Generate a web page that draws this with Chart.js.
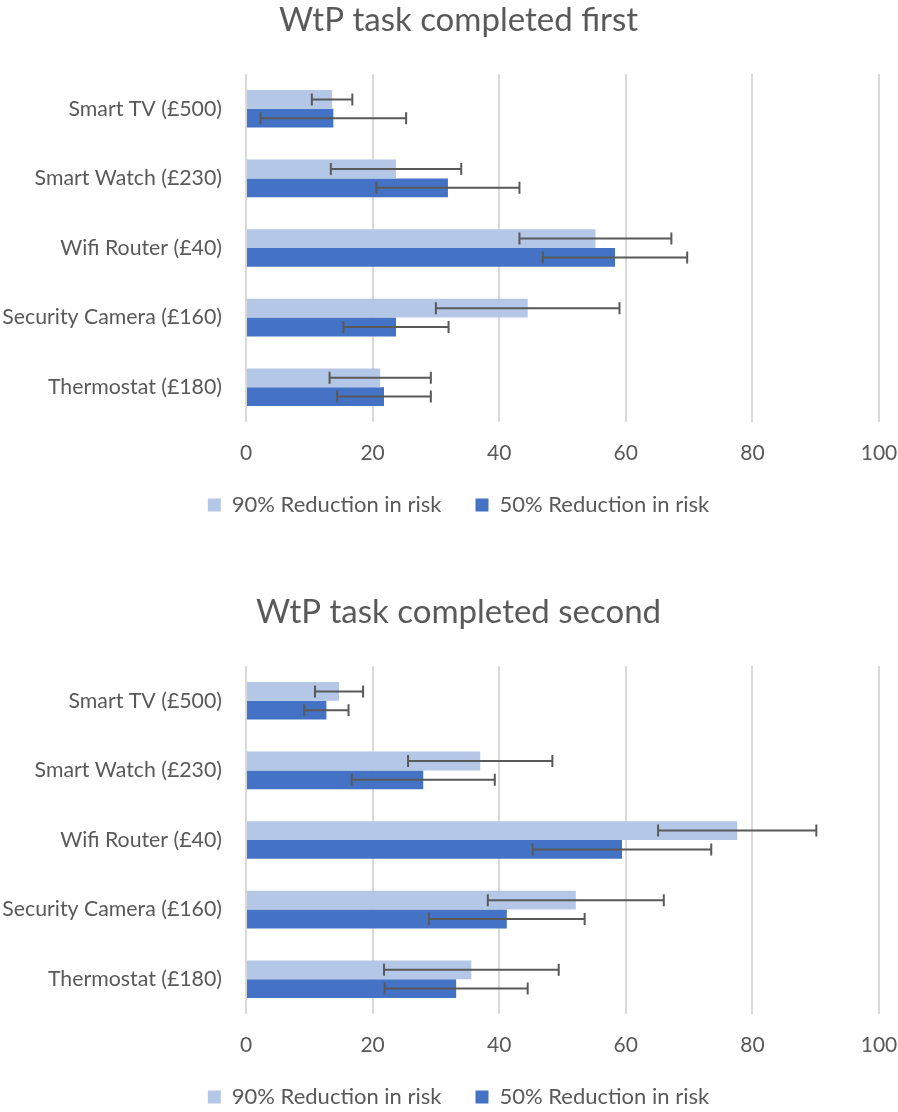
<!DOCTYPE html>
<html>
<head>
<meta charset="utf-8">
<script src="https://cdn.jsdelivr.net/npm/chart.js@4.4.1/dist/chart.umd.min.js"></script>
<style>
    html, body { margin: 0; padding: 0; background: #fff; overflow: hidden; }
    body { width: 898px; height: 1112px; position: relative; }
    .box { position: absolute; left: 0; width: 898px; height: 592px; }
</style>
</head>
<body>
<div class="box" style="top:0"><canvas id="chartFirst" width="898" height="592"></canvas></div>
<div class="box" style="top:592px"><canvas id="chartSecond" width="898" height="592"></canvas></div>
<script>
const categories = ['Smart TV (£500)', 'Smart Watch (£230)', 'Wifi Router (£40)', 'Security Camera (£160)', 'Thermostat (£180)'];
const seriesNames = ['90% Reduction in risk', '50% Reduction in risk'];

// WtP task completed first
const firstRisk90 = [13.6, 23.7, 55.2, 44.5, 21.2];
const firstRisk90Err = [3.2, 10.3, 12.0, 14.5, 8.0];
const firstRisk50 = [13.8, 31.9, 58.3, 23.7, 21.8];
const firstRisk50Err = [11.5, 11.3, 11.4, 8.3, 7.4];

// WtP task completed second
const secondRisk90 = [14.7, 37.0, 77.6, 52.1, 35.6];
const secondRisk90Err = [3.8, 11.4, 12.5, 13.9, 13.8];
const secondRisk50 = [12.7, 28.0, 59.4, 41.2, 33.2];
const secondRisk50Err = [3.5, 11.3, 14.1, 12.3, 11.3];

const xMin = 0, xMax = 100, xStep = 20;

const textColor = '#595959';
const fontFamily = 'Lato, "Open Sans", sans-serif';

const errorBars = {
    id: 'errorBars',
    afterDatasetsDraw(chart) {
        const ctx = chart.ctx;
        const xScale = chart.scales.x;
        ctx.save();
        ctx.strokeStyle = '#595959';
        ctx.lineWidth = 2;
        chart.data.datasets.forEach((ds, di) => {
            const meta = chart.getDatasetMeta(di);
            meta.data.forEach((bar, i) => {
                const v = ds.data[i], e = ds.errors[i];
                const x1 = xScale.getPixelForValue(v - e);
                const x2 = xScale.getPixelForValue(v + e);
                const y = bar.y;
                ctx.beginPath();
                ctx.moveTo(x1, y); ctx.lineTo(x2, y);
                ctx.moveTo(x1, y - 6); ctx.lineTo(x1, y + 6);
                ctx.moveTo(x2, y - 6); ctx.lineTo(x2, y + 6);
                ctx.stroke();
            });
        });
        ctx.restore();
    }
};

function makeChart(id, title, v90, e90, v50, e50) {
    const ctx = document.getElementById(id).getContext('2d');
    return new Chart(ctx, {
        type: 'bar',
        data: {
            labels: categories,
            datasets: [
                { label: seriesNames[0], data: v90, errors: e90, backgroundColor: '#b4c7e7' },
                { label: seriesNames[1], data: v50, errors: e50, backgroundColor: '#4472c4' }
            ]
        },
        options: {
            indexAxis: 'y',
            responsive: false,
            animation: false,
            devicePixelRatio: 1,
            categoryPercentage: 0.54,
            barPercentage: 1.0,
            layout: { padding: { top: 0, left: 38, right: 19, bottom: 66 } },
            plugins: {
                title: {
                    display: true,
                    text: title,
                    color: textColor,
                    font: { family: fontFamily, size: 33, weight: 'normal' },
                    padding: { top: 1, bottom: 33.4 }
                },
                legend: {
                    position: 'bottom',
                    labels: {
                        color: textColor,
                        font: { family: fontFamily, size: 22 },
                        boxWidth: 13,
                        boxHeight: 13,
                        padding: 34
                    }
                },
                tooltip: { enabled: false }
            },
            scales: {
                x: {
                    min: xMin,
                    max: xMax,
                    ticks: {
                        stepSize: xStep,
                        color: textColor,
                        font: { family: fontFamily, size: 21 },
                        padding: 19
                    },
                    grid: { color: '#d9d9d9', lineWidth: 2, drawTicks: false },
                    border: { display: false },
                    afterFit: s => {
                        s.height = 38;
                        s.paddingLeft = 0;
                        s.paddingRight = 0;
                    }
                },
                y: {
                    ticks: {
                        color: textColor,
                        font: { family: fontFamily, size: 21.3 },
                        padding: 24
                    },
                    grid: { display: false, drawTicks: false },
                    border: { display: false },
                    afterFit: s => {
                        s.width = 208;
                        // let long category labels run past the scale's left edge
                        s._computeLabelArea = () => undefined;
                    }
                }
            }
        },
        plugins: [errorBars]
    });
}

makeChart('chartFirst', 'WtP task completed first', firstRisk90, firstRisk90Err, firstRisk50, firstRisk50Err);
makeChart('chartSecond', 'WtP task completed second', secondRisk90, secondRisk90Err, secondRisk50, secondRisk50Err);
</script>
</body>
</html>
